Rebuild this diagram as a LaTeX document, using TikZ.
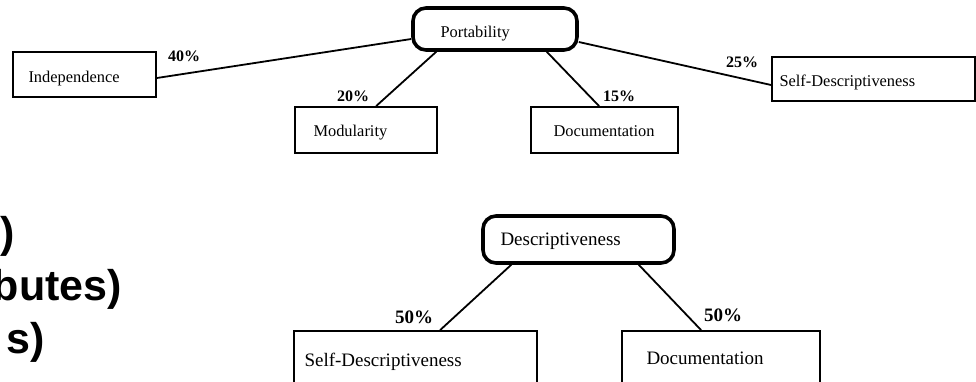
\documentclass[tikz,border=0pt]{standalone}
\usepackage{fontspec}
\setmainfont{Liberation Serif}
\newfontfamily\headsans{Liberation Sans}
\usetikzlibrary{calc}

\begin{document}
\begin{tikzpicture}[x=1pt,y=-1pt,
  box/.style={draw, line width=1.8pt, rectangle, inner ysep=0pt, text depth=0pt,
    align=left, font=\fontsize{16.4}{18}\selectfont},
  bigbox/.style={box, font=\fontsize{19}{21}\selectfont},
  topic/.style={line width=3.6pt, rounded corners=13pt},
  pct/.style={font=\bfseries\fontsize{16}{18}\selectfont, anchor=base west, inner sep=0pt},
  bigpct/.style={pct, font=\bfseries\fontsize{19}{21}\selectfont},
  link/.style={line width=1.8pt},
  slide/.style={font=\headsans\bfseries\fontsize{43}{47}\selectfont, anchor=base east, inner sep=0pt},
]
\useasboundingbox (0,0) rectangle (976,381);
\clip (0,0) rectangle (976,381);

% bullet-line endings of the slide text
\node[slide] (s1) at (15,247) {)};
\node[slide] (s2) at (122,300) {butes)};
\node[slide] (s3) at (45,353) {s)};

% Portability tree
\node[box, topic, minimum width=164pt, minimum height=42pt, inner xsep=27pt,
      text width=109pt, text height=16pt] (port) at (495,29) {Portability};
\node[box, minimum width=143pt, minimum height=45pt, inner xsep=15pt,
      text width=112pt, text height=15pt] (indep) at (84.5,74.5) {Independence};
\node[box, minimum width=142pt, minimum height=46pt, inner xsep=18pt,
      text width=105pt, text height=13pt] (mod) at (366,130) {Modularity};
\node[box, minimum width=147pt, minimum height=46pt, inner xsep=22pt,
      text width=102pt, text height=13pt] (doc) at (604.5,130) {Documentation};
\node[box, minimum width=203pt, minimum height=44pt, inner xsep=7pt,
      text width=188pt, text height=14pt] (selfd) at (873.5,79) {Self-Descriptiveness};

\draw[link] ($(indep.east)+(0,3.5)$) -- ($(port.west)+(0,10)$);
\draw[link] ($(port.south west)+(25,0)$) -- ($(mod.north west)+(82,0)$);
\draw[link] ($(port.south east)+(-32,0)$) -- ($(doc.north west)+(69,0)$);
\draw[link] ($(port.east)+(0,13)$) -- ($(selfd.west)+(0,6)$);

\node[pct] (p40) at (168,61) {40\%};
\node[pct] (p20) at (337,101) {20\%};
\node[pct] (p15) at (603,101) {15\%};
\node[pct] (p25) at (726,67) {25\%};

% Descriptiveness tree
\node[bigbox, topic, minimum width=191pt, minimum height=47pt, inner xsep=17pt,
      text width=156pt, text height=11pt] (desc) at (578.5,239.5) {Descriptiveness};
\node[bigbox, minimum width=243pt, minimum height=54pt, inner xsep=10pt,
      text width=222pt, text height=16pt] (selfd2) at (415.5,358) {Self-Descriptiveness};
\node[bigbox, minimum width=198pt, minimum height=54pt, inner xsep=24pt,
      text width=149pt, text height=12pt] (doc2) at (721,358) {Documentation};

\draw[link] ($(desc.south west)+(30,0)$) -- ($(selfd2.north west)+(147,0)$);
\draw[link] ($(desc.south east)+(-37,0)$) -- ($(doc2.north west)+(80,0)$);

\node[bigpct] (p50a) at (395,323) {50\%};
\node[bigpct] (p50b) at (704,321) {50\%};
\end{tikzpicture}
\end{document}
